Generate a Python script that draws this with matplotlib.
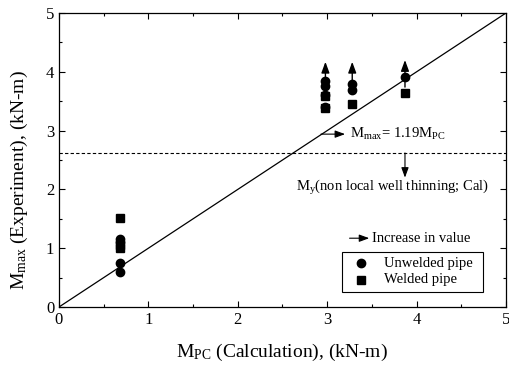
import matplotlib
matplotlib.use("Agg")
import matplotlib.pyplot as plt
from matplotlib.ticker import MultipleLocator

plt.rcParams['font.family'] = ['Liberation Serif', 'DejaVu Serif']
plt.rcParams['mathtext.fontset'] = 'custom'
plt.rcParams['mathtext.rm'] = 'Liberation Serif'
plt.rcParams['mathtext.it'] = 'Liberation Serif:italic'

# Data
unwelded_x = [0.68, 0.68, 0.68, 0.68, 2.98, 2.98, 2.98, 2.98, 3.28, 3.28, 3.87]
unwelded_y = [1.16, 1.10, 0.75, 0.60, 3.84, 3.76, 3.60, 3.40, 3.79, 3.69, 3.91]
welded_x = [0.68, 0.68, 0.68, 2.98, 2.98, 3.28, 3.87]
welded_y = [1.51, 1.05, 1.00, 3.58, 3.38, 3.46, 3.64]
arrow_x = [2.98, 3.28, 3.87]
arrow_start = [3.84, 3.79, 3.74]
arrow_end = [4.17, 4.17, 4.20]
my_level = 2.62
ticks = [0, 1, 2, 3, 4, 5]

ARROW = '-|>,head_length=0.6,head_width=0.22'

fig = plt.figure(figsize=(5.1, 3.7), dpi=100)
ax = fig.add_axes([59/510, 1-307/370, (506-59)/510, (307-13)/370])

ax.plot([0, 5], [0, 5], color='black', lw=0.9)
ax.axhline(my_level, color='black', lw=0.8, ls=(0, (3, 2)))

for x, y0, y1 in zip(arrow_x, arrow_start, arrow_end):
    ax.annotate('', xy=(x, y1), xytext=(x, y0),
                arrowprops=dict(arrowstyle=ARROW, color='black', lw=1.0,
                                mutation_scale=11, shrinkA=0, shrinkB=0))

ax.plot(unwelded_x, unwelded_y, 'o', color='black', ms=6, zorder=3)
ax.plot(welded_x, welded_y, 's', color='black', ms=5.2, zorder=3)

fs = 10.5
# annotations
ax.annotate('', xy=(3.2, 2.94), xytext=(2.93, 2.94),
            arrowprops=dict(arrowstyle=ARROW, color='black', lw=0.8,
                            mutation_scale=10, shrinkA=0, shrinkB=0))
ax.text(3.25, 2.94, r'$\mathrm{M_{max}}$= 1.19$\mathrm{M_{PC}}$', fontsize=fs, va='center', ha='left')
ax.annotate('', xy=(3.87, 2.2), xytext=(3.87, my_level),
            arrowprops=dict(arrowstyle=ARROW, color='black', lw=0.8,
                            mutation_scale=10, shrinkA=0, shrinkB=0))
ax.text(2.65, 2.04, r'$\mathrm{M_y}$(non local well thinning; Cal)', fontsize=fs, va='center', ha='left')

# legend-like box
ax.annotate('', xy=(3.47, 1.17), xytext=(3.25, 1.17),
            arrowprops=dict(arrowstyle=ARROW, color='black', lw=0.8,
                            mutation_scale=10, shrinkA=0, shrinkB=0))
ax.text(3.5, 1.17, 'Increase in value', fontsize=fs, va='center', ha='left')
ax.add_patch(plt.Rectangle((3.16, 0.26), 1.58, 0.68, fill=False, lw=0.8, color='black'))
ax.plot([3.38], [0.74], 'o', color='black', ms=6)
ax.plot([3.38], [0.46], 's', color='black', ms=5.2)
ax.text(3.63, 0.74, 'Unwelded pipe', fontsize=fs, va='center', ha='left')
ax.text(3.63, 0.46, 'Welded pipe', fontsize=fs, va='center', ha='left')

ax.set_xlim(0, 5)
ax.set_ylim(0, 5)
ax.set_xticks(ticks)
ax.set_yticks(ticks)
ax.xaxis.set_minor_locator(MultipleLocator(0.5))
ax.yaxis.set_minor_locator(MultipleLocator(0.5))
ax.tick_params(which='both', direction='in', top=True, right=True, labelsize=12, width=0.8)
ax.tick_params(which='major', length=4)
ax.tick_params(which='minor', length=2.5)
for s in ax.spines.values():
    s.set_linewidth(0.9)

ax.set_xlabel(r'$\mathrm{M_{PC}}$ (Calculation), (kN-m)', fontsize=14)
ax.set_ylabel(r'$\mathrm{M_{max}}$ (Experiment), (kN-m)', fontsize=14)
ax.xaxis.set_label_coords(0.498, -0.12)
ax.yaxis.set_label_coords(-0.065, 0.43)

fig.savefig('out.png', dpi=100)
